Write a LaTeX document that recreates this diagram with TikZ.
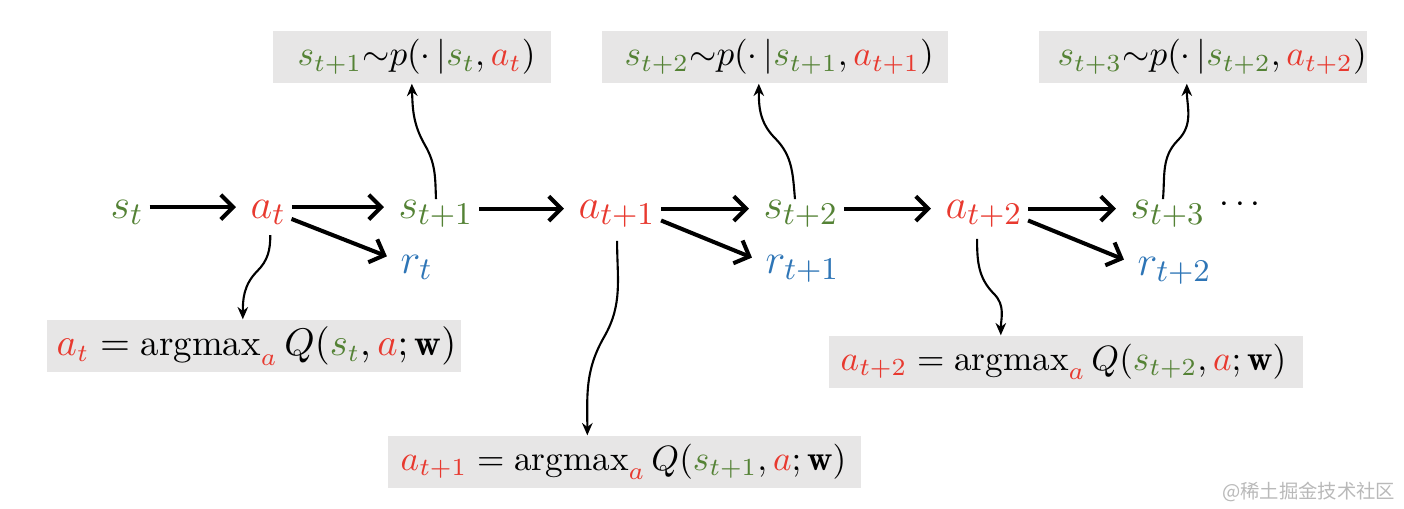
\documentclass[tikz,border=0pt]{standalone}
\usepackage{amsmath,amssymb,bm}
\usepackage{xcolor}
\usepackage{fontspec}
\newfontfamily\wmfont{Noto Sans CJK SC}
\usepackage{tikz}
\usetikzlibrary{positioning,arrows.meta,calc}

\definecolor{sgreen}{HTML}{548235}
\definecolor{ared}{HTML}{E8392F}
\definecolor{rblue}{HTML}{2E75B6}
\definecolor{boxgray}{HTML}{E7E6E6}

\newcommand{\stt}[1]{\textcolor{sgreen}{s_{#1}}}
\newcommand{\att}[1]{\textcolor{ared}{a_{#1}}}
\newcommand{\rtt}[1]{\textcolor{rblue}{r_{#1}}}

\begin{document}
\begin{tikzpicture}[x=0.01cm, y=0.01cm,
  every node/.style={inner sep=0pt},
  sym/.style={anchor=base west, font=\fontsize{13}{15}\selectfont},
  eqbox/.style={fill=boxgray, anchor=west, align=left,
                minimum height=0.52cm, font=\fontsize{10}{12}\selectfont,
                execute at begin node={\relpenalty=10000 \binoppenalty=10000}},
  arr/.style={-{Straight Barb[length=3.5pt,width=7pt]}, line width=1.15pt,
              shorten <=1.5pt, shorten >=4pt},
  wig/.style={-{Stealth[length=3.5pt,width=3pt]}, line width=0.6pt}
]
\useasboundingbox (0,0) rectangle (1404,508);

%% states, actions, rewards
\node[sym] (st) at (110,290) {$\stt{t}$};
\node[sym] (at) at (250,290) {$\att{t}$};
\node[sym] (s1) at (398,290) {$\stt{t+1}$};
\node[sym] (rt) at (400,235) {$\rtt{t}$};
\node[sym] (a1) at (578,290) {$\att{t+1}$};
\node[sym] (s2) at (763,290) {$\stt{t+2}$};
\node[sym] (r1) at (765,235) {$\rtt{t+1}$};
\node[sym] (a2) at (945,290) {$\att{t+2}$};
\node[sym] (s3) at (1130,290) {$\stt{t+3}$};
\node[sym] (r2) at (1137,233) {$\rtt{t+2}$};
\node[font=\fontsize{10}{12}\selectfont] (dots) at (1243,303) {$\cdots$};

%% transition boxes
\node[eqbox, text width=2.28cm, inner xsep=0.25cm] (p1) at (272,451)
  {$\stt{t+1}{\sim}p(\cdot\,|\stt{t}, \att{t})$};
\node[eqbox, text width=3.0cm, inner xsep=0.23cm] (p2) at (601,451)
  {$\stt{t+2}{\sim}p(\cdot\,|\stt{t+1}, \att{t+1})$};
\node[eqbox, text width=2.9cm, inner xsep=0.19cm] (p3) at (1038,451)
  {$\stt{t+3}{\sim}p(\cdot\,|\stt{t+2}, \att{t+2})$};

%% greedy action boxes
\node[eqbox, font=\fontsize{10.5}{12}\selectfont, text width=3.94cm, inner xsep=0.1cm] (q0) at (46,162)
  {$\att{t} = \operatorname{argmax}_{\textcolor{ared}{a}} Q(\stt{t}, \textcolor{ared}{a}; \mathbf{w})$};
\node[eqbox, text width=4.47cm, inner xsep=0.13cm] (q1) at (387,46)
  {$\att{t+1} = \operatorname{argmax}_{\textcolor{ared}{a}} Q(\stt{t+1}, \textcolor{ared}{a}; \mathbf{w})$};
\node[eqbox, text width=4.5cm, inner xsep=0.12cm] (q2) at (828,146)
  {$\att{t+2} = \operatorname{argmax}_{\textcolor{ared}{a}} Q(\stt{t+2}, \textcolor{ared}{a}; \mathbf{w})$};

%% main chain
\draw[arr] ([yshift=1.4pt]st.east) -- ([yshift=1.4pt]st.east -| at.west);
\draw[arr] ([yshift=1.4pt]at.east) -- ([yshift=1.4pt]at.east -| s1.west);
\draw[arr] ([yshift=-1.4pt]at.east) -- ([yshift=1.6pt]rt.west);
\draw[arr] ([yshift=1.4pt]s1.east) -- ([yshift=1.4pt]s1.east -| a1.west);
\draw[arr] ([yshift=1.4pt]a1.east) -- ([yshift=1.4pt]a1.east -| s2.west);
\draw[arr] ([yshift=-1.4pt]a1.east) -- ([yshift=1.6pt]r1.west);
\draw[arr] ([yshift=1.4pt]s2.east) -- ([yshift=1.4pt]s2.east -| a2.west);
\draw[arr] ([yshift=1.4pt]a2.east) -- ([yshift=1.4pt]a2.east -| s3.west);
\draw[arr] ([yshift=-1.4pt]a2.east) -- ([yshift=1.6pt]r2.west);

%% wiggly pointers to the boxes
\draw[wig] (s1.north) to[out=92,in=-60] ++(-11,54) to[out=120,in=-88] (p1.south);
\draw[wig] ([xshift=-0.06cm]s2.north) to[out=95,in=-45] ++(-20,61)
  to[out=135,in=-90] ([xshift=-0.16cm]p2.south);
\draw[wig] ([xshift=-0.05cm]s3.north) to[out=85,in=-135] ++(15,59)
  to[out=45,in=-90] ([xshift=-0.16cm]p3.south);
\draw[wig] ([xshift=0.02cm,yshift=-0.1cm]at.south) to[out=-90,in=45] ++(-13,-36)
  to[out=-135,in=90] ([xshift=-0.11cm]q0.north);
\draw[wig] ([yshift=-0.13cm]a1.south) to[out=-90,in=60] ++(-13,-96)
  to[out=-120,in=90] ([xshift=-0.37cm]q1.north);
\draw[wig] ([xshift=-0.07cm,yshift=-0.11cm]a2.south) to[out=-90,in=135] ++(17,-55)
  to[out=-45,in=90] ([xshift=-0.65cm]q2.north);

\node[font=\wmfont\fontsize{5.5}{6}\selectfont, text=gray!55, anchor=east] (wm)
  at (1396,16) {@稀土掘金技术社区};
\end{tikzpicture}
\end{document}
